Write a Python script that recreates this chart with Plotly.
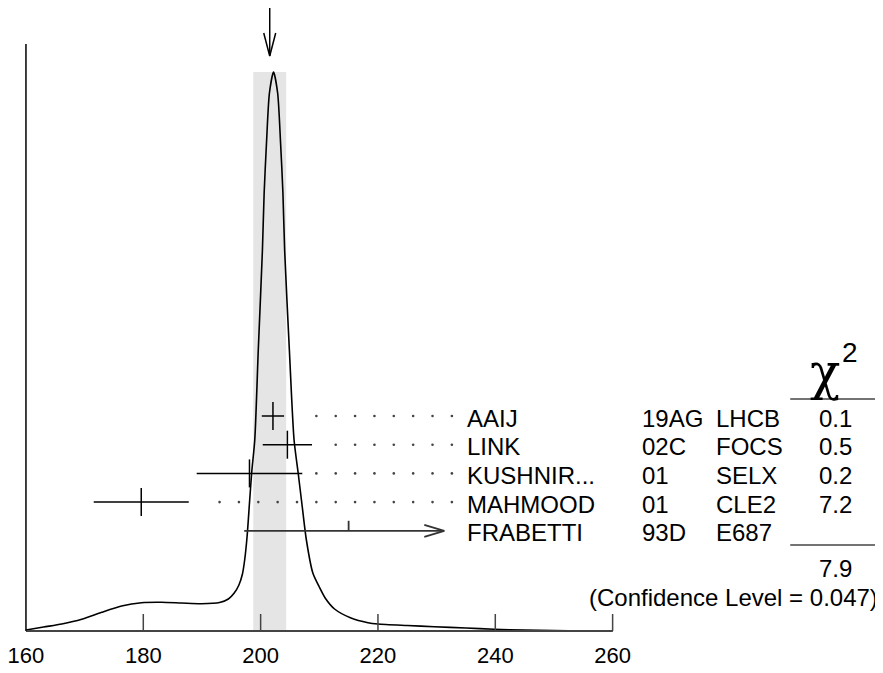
import plotly.graph_objects as go

# ---------------- data ----------------
# ideogram curve (relative height)
curve_x = [160.0, 163.0, 166.1, 169.5, 172.9, 176.3, 179.7, 183.1, 186.5, 189.9,
           193.0, 194.5, 195.5, 196.3, 196.9, 197.3, 197.7, 198.1, 198.5, 199.0, 199.6,
           200.3, 200.6, 201.0, 201.5, 202.2, 202.9, 203.4, 203.8, 204.1, 204.9,
           205.7, 206.4, 207.1, 207.8, 208.9, 210.0, 211.0, 212.6, 215.4, 218.3,
           220.0, 225.0, 229.6, 235.0, 239.8, 245.0, 250.0, 255.0, 260.0]
curve_y = [1, 4, 7, 11.7, 18.7, 25, 28.3, 28.7, 28, 27.3,
           28.5, 32, 38, 46, 57, 72, 95, 128, 160, 191, 281,
           380, 438, 488, 538, 559, 538, 488, 438, 380, 281,
           191, 158, 124, 91, 58, 44, 33, 22, 13, 8.3,
           7, 5.5, 4.3, 3, 1.7, 1, 0.4, 0.1, 0]

# weighted average and its (scaled) error
avg_value = 201.55
avg_error = 2.8

# measurements
names = ["AAIJ", "LINK", "KUSHNIR...", "MAHMOOD", "FRABETTI"]
codes = ["19AG", "02C", "01", "01", "93D"]
experiments = ["LHCB", "FOCS", "SELX", "CLE2", "E687"]
values = [202.1, 204.56, 198.1, 179.65, 215.0]
err_minus = [1.9, 4.2, 9.0, 8.1, 17.8]
err_plus = [1.9, 4.2, 9.0, 8.1, 16.3]
chi2 = ["0.1", "0.5", "0.2", "7.2", ""]
used_in_fit = [True, True, True, True, False]
chi2_total = "7.9"
confidence_level = "0.047"

x_ticks = [160, 180, 200, 220, 240, 260]

# ---------------- figure ----------------
OFF = 8                      # default page margin of the html body
W, H = 883 - OFF, 673 - OFF
PX_PER_UNIT = 5.88
X0_PX = 24 - OFF             # pixel of x=160 inside the figure
x_range = [160 - X0_PX / PX_PER_UNIT, 160 + (W - X0_PX) / PX_PER_UNIT]
AXIS_PY = 631 - OFF          # pixel of y=0 inside the figure
PLOT_H = AXIS_PY + 3
y_range = [-3, PLOT_H - 3]
ROW0_PY, ROW_STEP = 416 - OFF, 28.7
y2_range = [(PLOT_H - ROW0_PY) / ROW_STEP, (0 - ROW0_PY) / ROW_STEP]

FONT = "Liberation Sans, Arial, Helvetica, sans-serif"
AX = "#444444"

fig = go.Figure()

peak = max(curve_y)
fig.add_shape(type="rect", x0=avg_value - avg_error, x1=avg_value + avg_error,
              y0=0, y1=peak, fillcolor="#e5e5e5", line_width=0, layer="below")

fig.add_trace(go.Scatter(x=curve_x, y=curve_y, mode="lines",
                         line=dict(color="black", width=1.6, shape="spline", smoothing=0.7),
                         hoverinfo="skip", showlegend=False))

fig.add_shape(type="line", x0=x_ticks[0], x1=x_ticks[-1], y0=0, y1=0,
              line=dict(color=AX, width=2))
fig.add_shape(type="line", x0=x_ticks[0], x1=x_ticks[0], y0=0, y1=587,
              line=dict(color="black", width=1.5))
for t in x_ticks[1:]:
    fig.add_shape(type="line", x0=t, x1=t, y0=0, y1=17, line=dict(color=AX, width=1.5))

head_dx = 6 / PX_PER_UNIT
fig.add_trace(go.Scatter(x=[avg_value, avg_value, None, avg_value - head_dx, avg_value, avg_value + head_dx],
                         y=[628, 575, None, 598, 575, 598], mode="lines",
                         line=dict(color="black", width=1.5), hoverinfo="skip", showlegend=False))

fit_idx = [i for i in range(len(names)) if used_in_fit[i]]
fig.add_trace(go.Scatter(
    x=[values[i] for i in fit_idx], y=fit_idx, yaxis="y2", mode="markers",
    marker=dict(symbol="line-ns", size=20, line=dict(color="black", width=1.5)),
    error_x=dict(type="data", symmetric=False,
                 array=[err_plus[i] for i in fit_idx],
                 arrayminus=[err_minus[i] for i in fit_idx],
                 color="black", thickness=1.5, width=0),
    hoverinfo="skip", showlegend=False))

dot_x, dot_y = [], []
grid_start, grid_step, grid_end = 193.0, 3.3, 232.7
gap = 14 / PX_PER_UNIT
for i in fit_idx:
    k = 0
    while True:
        gx = grid_start + grid_step * k
        if gx > grid_end:
            break
        if gx >= values[i] + err_plus[i] + gap:
            dot_x.append(gx)
            dot_y.append(i)
        k += 1
fig.add_trace(go.Scatter(x=dot_x, y=dot_y, yaxis="y2", mode="markers",
                         marker=dict(size=2.6, color="#444444"),
                         hoverinfo="skip", showlegend=False))

for i in range(len(names)):
    if used_in_fit[i]:
        continue
    lo = values[i] - err_minus[i]
    hi = values[i] + err_plus[i]
    adx = 20 / PX_PER_UNIT
    ady = 6 / ROW_STEP
    fig.add_trace(go.Scatter(
        x=[lo, hi, None, hi - adx, hi, hi - adx, None, values[i], values[i]],
        y=[i, i, None, i - ady, i, i + ady, None, i, i - 10 / ROW_STEP],
        yaxis="y2", mode="lines", line=dict(color="#333333", width=1.8),
        hoverinfo="skip", showlegend=False))


def px2paper(px):
    return (px - OFF) / W


def py2paper(py):
    return 1 - (py - OFF) / PLOT_H


txt_font = dict(family=FONT, size=24, color="black")
for i in range(len(names)):
    common = dict(yref="y2", y=i, yanchor="middle", showarrow=False, font=txt_font, xref="paper", yshift=-2)
    fig.add_annotation(x=px2paper(464), xanchor="left", text=names[i], **common)
    fig.add_annotation(x=px2paper(639), xanchor="left", text=codes[i], **common)
    fig.add_annotation(x=px2paper(714), xanchor="left", text=experiments[i], **common)
    if chi2[i]:
        fig.add_annotation(x=px2paper(835), xanchor="center", text=chi2[i], **common)

fig.add_annotation(x=px2paper(825), y=py2paper(372), xref="paper", yref="paper",
                   text="χ", showarrow=False,
                   font=dict(family="DejaVu Serif, Liberation Serif, serif", size=50, color="black"),
                   xanchor="center", yanchor="middle")
fig.add_annotation(x=px2paper(850), y=py2paper(352), xref="paper", yref="paper",
                   text="2", showarrow=False, font=dict(family=FONT, size=28, color="black"),
                   xanchor="center", yanchor="middle")
for py in (399, 545):
    fig.add_shape(type="line", xref="paper", yref="paper", x0=px2paper(790), x1=px2paper(882),
                  y0=py2paper(py), y1=py2paper(py), line=dict(color=AX, width=1.5))

fig.add_annotation(x=px2paper(835), y=py2paper(568), xref="paper", yref="paper",
                   text=chi2_total, showarrow=False, font=txt_font,
                   xanchor="center", yanchor="middle")
fig.add_annotation(x=px2paper(880), y=py2paper(597), xref="paper", yref="paper",
                   text=f"(Confidence Level = {confidence_level})", showarrow=False, font=txt_font,
                   xanchor="right", yanchor="middle")

fig.update_layout(
    width=W, height=H,
    margin=dict(l=0, r=0, t=0, b=H - PLOT_H),
    paper_bgcolor="white", plot_bgcolor="white",
    xaxis=dict(range=x_range, showgrid=False, zeroline=False, showline=False,
               ticks="", tickvals=x_ticks, ticktext=[str(t) for t in x_ticks],
               ticklabelstandoff=6, ticklabeloverflow="allow",
               tickfont=dict(family=FONT, size=22, color="black")),
    yaxis=dict(range=y_range, visible=False, fixedrange=True),
    yaxis2=dict(range=y2_range, visible=False, overlaying="y"),
    showlegend=False,
)

fig.write_html("out.html")
